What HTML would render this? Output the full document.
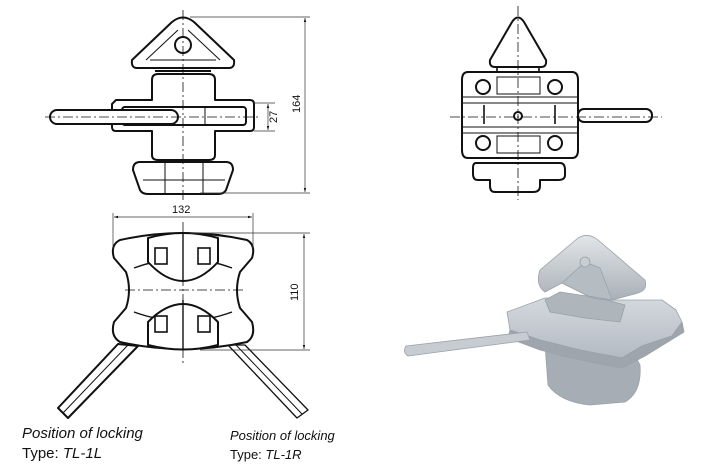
<!DOCTYPE html>
<html><head><meta charset="utf-8"><style>
html,body{margin:0;padding:0;background:#fff;width:702px;height:468px;overflow:hidden}
svg{display:block}
text{font-family:"Liberation Sans",sans-serif;fill:#111}
.l{fill:#fff;stroke:#111;stroke-width:2;stroke-linejoin:round}
.t{fill:none;stroke:#111;stroke-width:1}
.c{fill:none;stroke:#111;stroke-width:0.8;stroke-dasharray:10 3 2 3}
.d{fill:none;stroke:#333;stroke-width:0.7}
</style></head><body>
<svg width="702" height="468" viewBox="0 0 702 468">
<defs><marker id="a" viewBox="0 0 10 10" refX="10" refY="5" markerWidth="6" markerHeight="6" orient="auto-start-reverse"><path d="M0,2 L10,5 L0,8z" fill="#111"/></marker>
<linearGradient id="g1" x1="0" y1="0" x2="0" y2="1"><stop offset="0" stop-color="#d4d9de"/><stop offset="1" stop-color="#b3bac1"/></linearGradient>
<linearGradient id="g2" x1="0" y1="0" x2="0" y2="1"><stop offset="0" stop-color="#e2e5e8"/><stop offset="1" stop-color="#a9b0b7"/></linearGradient></defs>

<!-- TOP LEFT VIEW -->
<path class="l" d="M152,100 V80 Q152,74 158,74 H209 Q215,74 215,80 V100 H250 Q254,100 254,104 V127 Q254,131 250,131 H215 V155 Q215,160 209,160 H158 Q152,160 152,155 V131 H116 Q112,131 112,127 V104 Q116,100 116,100 Z"/>
<path class="l" d="M137,68 Q131,68 132,60 L172,22 Q183,13 194,22 L234,60 Q235,68 229,68 Z"/>
<path class="t" d="M146,60 L178,30 M220,60 L188,30 M150,60 H216"/>
<circle class="l" cx="183" cy="45" r="8"/>
<path class="t" d="M155,71 H211" style="stroke-width:2"/>
<rect class="l" x="122" y="107" width="124" height="18" rx="3"/>
<path class="t" d="M205,107 V125"/>
<rect class="l" x="50" y="110" width="128" height="14" rx="7"/>
<path class="l" d="M140,162 H226 Q233,162 233,170 L226,190 Q224,194 218,194 H148 Q142,194 140,190 L133,170 Q133,162 140,162 Z"/>
<path class="t" d="M165,162 V194 M203,162 V194 M143,180 H225"/>
<path class="c" d="M183,10 V200 M45,117 H260"/>
<path class="d" d="M190,17 H310 M200,193 H310 M254,103 H275 M254,131 H275"/>
<line class="d" x1="305" y1="18" x2="305" y2="192" marker-start="url(#a)" marker-end="url(#a)"/>
<line class="d" x1="268" y1="104" x2="268" y2="130" marker-start="url(#a)" marker-end="url(#a)"/>
<text x="0" y="0" font-size="11" transform="translate(277,123) rotate(-90)">27</text>
<text x="0" y="0" font-size="11" transform="translate(300,113) rotate(-90)">164</text>

<!-- TOP RIGHT VIEW -->
<path class="l" d="M495,67 Q489,67 490,60 L512,22 Q518,13 524,22 L546,60 Q547,67 541,67 Z"/>
<rect class="t" x="497" y="67" width="42" height="5" style="stroke-width:1.6"/>
<path class="l" d="M468,72 H572 Q578,72 578,80 V150 Q578,158 572,158 H468 Q462,158 462,150 V80 Q462,72 468,72 Z"/>
<path class="t" d="M462,97 H578 M462,133 H578 M463,103 H578 M463,127 H578"/>
<rect class="t" x="497" y="77" width="43" height="17"/>
<rect class="t" x="497" y="136" width="43" height="17"/>
<circle class="l" cx="483" cy="87" r="7"/><circle class="l" cx="555" cy="87" r="7"/>
<circle class="l" cx="483" cy="143" r="7"/><circle class="l" cx="555" cy="143" r="7"/>
<circle class="l" cx="518" cy="116" r="4"/>
<path class="t" d="M484,105 V124 M555,105 V124" style="stroke-width:1.6"/>
<rect class="l" x="578" y="109" width="74" height="13" rx="6"/>
<path class="l" d="M476,163 H560 Q565,163 565,170 V175 Q565,180 558,180 H540 V186 Q540,192 533,192 H495 Q490,192 490,186 V180 H478 Q473,180 473,174 V168 Q473,163 476,163 Z"/>
<path class="c" d="M518,6 V200 M450,117 H662"/>

<!-- BOTTOM LEFT VIEW -->
<path class="l" d="M118,344 L58,408 L68,418 L138,346 Z"/>
<path class="t" d="M128,345 L63,413"/>
<path class="l" d="M228,345 L297,418 L308,410 L245,345 Z" style="stroke-width:1.3"/>
<path class="t" d="M236,345 L302,414"/>
<path class="l" d="M120,240 Q183,226 247,240 Q256,245 252,258 L240,272 Q234,290 240,308 L252,322 Q256,336 247,342 Q183,356 120,342 Q110,336 114,322 L126,308 Q132,290 126,272 L114,258 Q110,245 120,240 Z"/>
<path class="t" d="M134,268 Q183,250 232,268 M134,312 Q183,330 232,312" style="stroke-width:1.4"/>
<path class="l" d="M148,238 V262 Q183,300 218,262 V238 Q183,228 148,238 Z"/>
<path class="l" d="M148,345 V322 Q183,286 218,322 V345 Q183,354 148,345 Z"/>
<rect class="t" x="155" y="248" width="12" height="16" style="stroke-width:1.6"/>
<rect class="t" x="198" y="248" width="12" height="16" style="stroke-width:1.6"/>
<rect class="t" x="155" y="316" width="12" height="16" style="stroke-width:1.6"/>
<rect class="t" x="198" y="316" width="12" height="16" style="stroke-width:1.6"/>
<path class="t" d="M183,232 V282 M183,300 V350" style="stroke-width:1.4"/>
<path class="c" d="M183,222 V365 M125,290 H245"/>
<path class="d" d="M113,213 V250 M253,213 V250 M190,233 H310 M200,350 H310"/>
<line class="d" x1="114" y1="217" x2="252" y2="217" marker-start="url(#a)" marker-end="url(#a)"/>
<line class="d" x1="304" y1="234" x2="304" y2="349" marker-start="url(#a)" marker-end="url(#a)"/>
<text x="172" y="213" font-size="11">132</text>
<text x="0" y="0" font-size="11" transform="translate(298,301) rotate(-90)">110</text>

<text x="22" y="438" font-size="15" font-style="italic">Position of locking</text>
<text x="22" y="458" font-size="15">Type: <tspan font-style="italic">TL-1L</tspan></text>
<text x="230" y="440" font-size="13" font-style="italic">Position of locking</text>
<text x="230" y="459" font-size="13">Type: <tspan font-style="italic">TL-1R</tspan></text>

<!-- 3D VIEW -->
<g stroke="#9aa1a8" stroke-width="0.8" stroke-linejoin="round">
<path d="M545,345 L548,385 Q560,402 590,405 L625,402 Q642,392 640,365 L630,345 Z" fill="#a6adb4"/>
<path d="M507,312 L545,298 L610,300 L662,300 L676,310 L682,322 L672,336 L642,346 L622,358 L580,350 L540,340 L510,330 Z" fill="url(#g1)"/>
<path d="M510,330 L540,340 L580,350 L622,358 L642,346 L672,336 L682,322 L684,332 L645,356 L622,368 L580,360 L540,350 L508,338 Z" fill="#9ea5ac"/>
<path d="M545,300 L560,292 L600,298 L625,305 L620,322 L585,318 L550,312 Z" fill="#aeb5bb"/>
<path d="M540,270 L578,238 Q588,232 598,240 L645,280 Q648,290 638,293 L612,300 Q596,300 588,296 L562,283 L545,292 Q535,285 540,270 Z" fill="url(#g2)"/>
<path d="M562,283 L585,262 L600,268 L612,300 L588,296 Z" fill="#b5bcc2"/>
<circle cx="585" cy="262" r="5" fill="#c8cdd2"/>
<path d="M406,346 L527,332 L530,340 L408,356 Q402,352 406,346 Z" fill="#c6ccd1"/>
</g>
</svg>
</body></html>
